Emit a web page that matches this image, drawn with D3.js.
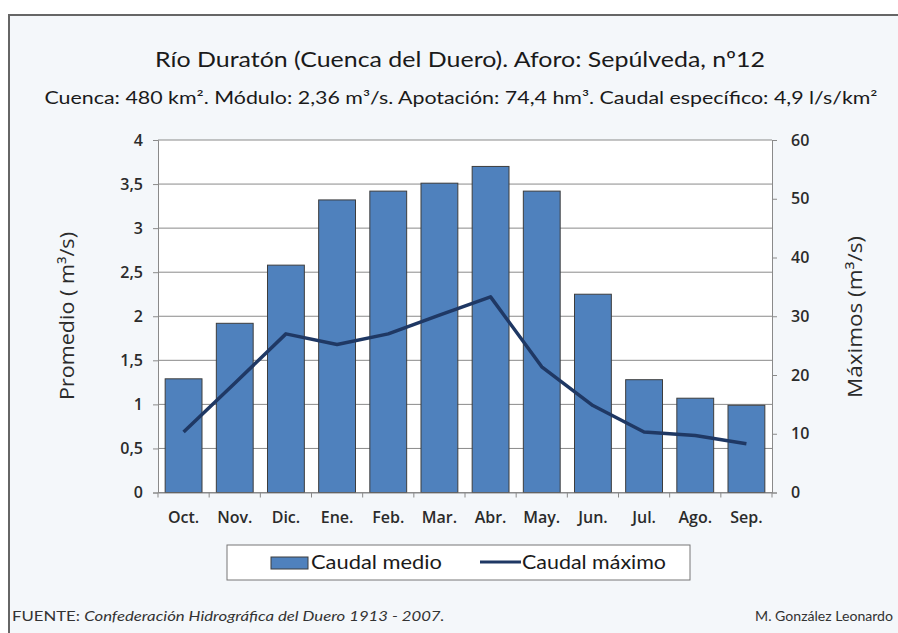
<!DOCTYPE html>
<html>
<head>
<meta charset="utf-8">
<script src="https://cdn.jsdelivr.net/npm/d3@7"></script>
<style>
  body { margin: 0; background: #ffffff; }
  text { font-family: "Open Sans", sans-serif; }
</style>
</head>
<body>
<div id="wrapper"></div>
<script>
// 1. Data
const months = ["Oct.", "Nov.", "Dic.", "Ene.", "Feb.", "Mar.", "Abr.", "May.", "Jun.", "Jul.", "Ago.", "Sep."]
const caudalMedio = [1.29, 1.92, 2.58, 3.32, 3.42, 3.51, 3.70, 3.42, 2.25, 1.28, 1.07, 0.99]
const caudalMaximo = [10.3, 18.6, 27.0, 25.2, 27.0, 30.2, 33.3, 21.4, 14.8, 10.3, 9.7, 8.3]
const leftTicks = [0, 0.5, 1, 1.5, 2, 2.5, 3, 3.5, 4]
const rightTicks = [0, 10, 20, 30, 40, 50, 60]

const titleText = "Río Duratón (Cuenca del Duero). Aforo: Sepúlveda, nº12"
const subtitleText = "Cuenca: 480 km². Módulo: 2,36 m³/s. Apotación: 74,4 hm³. Caudal específico: 4,9 l/s/km²"

// 2. Dimensions
const width = 898
const height = 633
const plot = { left: 158, right: 772, top: 140, bottom: 492.5 }

const svg = d3.select("#wrapper")
    .append("svg")
    .attr("width", width)
    .attr("height", height)

// outer frame
svg.append("rect")
    .attr("x", 9)
    .attr("y", 15)
    .attr("width", width + 10)
    .attr("height", height + 10)
    .attr("fill", "#f4f7fa")
    .attr("stroke", "#666")
    .attr("stroke-width", 2)

// plot background
svg.append("rect")
    .attr("x", plot.left)
    .attr("y", plot.top)
    .attr("width", plot.right - plot.left)
    .attr("height", plot.bottom - plot.top)
    .attr("fill", "#ffffff")

// 3. Scales
const xScale = d3.scaleBand()
    .domain(months)
    .range([plot.left, plot.right])
    .paddingInner(0.28)
    .paddingOuter(0.14)

const yLeft = d3.scaleLinear()
    .domain([0, 4])
    .range([plot.bottom, plot.top])

const yRight = d3.scaleLinear()
    .domain([0, 60])
    .range([plot.bottom, plot.top])

// gridlines
svg.append("g")
    .selectAll("line")
    .data(leftTicks)
    .join("line")
    .attr("x1", plot.left)
    .attr("x2", plot.right)
    .attr("y1", d => yLeft(d))
    .attr("y2", d => yLeft(d))
    .attr("stroke", "#8a8a8a")
    .attr("stroke-width", 1)

// bars
svg.append("g")
    .selectAll("rect")
    .data(caudalMedio)
    .join("rect")
    .attr("x", (d, i) => xScale(months[i]))
    .attr("y", d => yLeft(d))
    .attr("width", xScale.bandwidth())
    .attr("height", d => yLeft(0) - yLeft(d))
    .attr("fill", "#4f81bd")
    .attr("stroke", "#3d3d3d")
    .attr("stroke-width", 1)

// line
const lineGen = d3.line()
    .x((d, i) => xScale(months[i]) + xScale.bandwidth() / 2)
    .y(d => yRight(d))

svg.append("path")
    .datum(caudalMaximo)
    .attr("d", lineGen)
    .attr("fill", "none")
    .attr("stroke", "#1f3864")
    .attr("stroke-width", 3.5)
    .attr("stroke-linejoin", "round")

// 4. Axes
const fmt = d => String(d).replace(".", ",")

const leftAxis = svg.append("g")
    .attr("transform", `translate(${plot.left},0)`)
    .call(d3.axisLeft(yLeft).tickValues(leftTicks).tickFormat(fmt).tickSize(5).tickPadding(10))

const rightAxis = svg.append("g")
    .attr("transform", `translate(${plot.right},0)`)
    .call(d3.axisRight(yRight).tickValues(rightTicks).tickSize(5).tickPadding(14))

const bottomAxis = svg.append("g")
    .attr("transform", `translate(0,${plot.bottom})`)
    .call(d3.axisBottom(xScale).tickSize(0).tickPadding(19))

// category boundary ticks
bottomAxis.append("g")
    .selectAll("line")
    .data(d3.range(months.length + 1))
    .join("line")
    .attr("x1", i => plot.left + i * xScale.step())
    .attr("x2", i => plot.left + i * xScale.step())
    .attr("y1", 0)
    .attr("y2", 5)
    .attr("stroke", "#8a8a8a")

for (const ax of [leftAxis, rightAxis, bottomAxis]) {
    ax.select(".domain").attr("stroke", "#8a8a8a")
    ax.selectAll(".tick line").attr("stroke", "#8a8a8a")
    ax.selectAll("text")
        .attr("fill", "#2b2b2b")
        .style("font-size", "16px")
        .style("font-weight", 600)
}

// axis titles
svg.append("text")
    .attr("transform", "translate(74,316) rotate(-90)")
    .attr("text-anchor", "middle")
    .attr("textLength", 168)
    .attr("lengthAdjust", "spacingAndGlyphs")
    .style("font-size", "20px")
    .attr("fill", "#2b2b2b")
    .text("Promedio ( m³/s)")

svg.append("text")
    .attr("transform", "translate(862,317) rotate(-90)")
    .attr("text-anchor", "middle")
    .attr("textLength", 162)
    .attr("lengthAdjust", "spacingAndGlyphs")
    .style("font-size", "20px")
    .attr("fill", "#2b2b2b")
    .text("Máximos  (m³/s)")

// title
svg.append("text")
    .attr("x", 460)
    .attr("y", 67)
    .attr("text-anchor", "middle")
    .attr("textLength", 610)
    .attr("lengthAdjust", "spacingAndGlyphs")
    .style("font-family", "Lato, sans-serif")
    .style("font-size", "22px")
    .attr("fill", "#1a1a1a")
    .text(titleText)

svg.append("text")
    .attr("x", 461)
    .attr("y", 104)
    .attr("text-anchor", "middle")
    .attr("textLength", 833)
    .attr("lengthAdjust", "spacingAndGlyphs")
    .style("font-family", "Lato, sans-serif")
    .style("font-size", "17px")
    .attr("fill", "#1a1a1a")
    .text(subtitleText)

// legend
const legend = svg.append("g")

legend.append("rect")
    .attr("x", 227)
    .attr("y", 545)
    .attr("width", 463)
    .attr("height", 35)
    .attr("fill", "#ffffff")
    .attr("stroke", "#777")
    .attr("stroke-width", 1)

legend.append("rect")
    .attr("x", 271)
    .attr("y", 557)
    .attr("width", 37)
    .attr("height", 12)
    .attr("fill", "#4f81bd")
    .attr("stroke", "#3d3d3d")

legend.append("text")
    .attr("x", 311)
    .attr("y", 569)
    .attr("textLength", 131)
    .attr("lengthAdjust", "spacingAndGlyphs")
    .style("font-family", "Lato, sans-serif")
    .style("font-size", "19px")
    .attr("fill", "#1a1a1a")
    .text("Caudal medio")

legend.append("line")
    .attr("x1", 480)
    .attr("x2", 521)
    .attr("y1", 562)
    .attr("y2", 562)
    .attr("stroke", "#1f3864")
    .attr("stroke-width", 3)

legend.append("text")
    .attr("x", 522)
    .attr("y", 569)
    .attr("textLength", 144)
    .attr("lengthAdjust", "spacingAndGlyphs")
    .style("font-family", "Lato, sans-serif")
    .style("font-size", "19px")
    .attr("fill", "#1a1a1a")
    .text("Caudal máximo")

// footer: stretched horizontally to the reference width (about 433px)
const footerG = svg.append("g")
const footer = footerG.append("text")
    .attr("x", 0)
    .attr("y", 0)
    .style("font-family", "Lato, sans-serif")
    .style("font-size", "12.5px")
    .attr("fill", "#333")

footer.append("tspan").text("FUENTE: ")
footer.append("tspan")
    .style("font-style", "italic")
    .text("Confederación Hidrográfica del Duero 1913 - 2007.")

const footerW = footer.node().getComputedTextLength()
footerG.attr("transform", `translate(12,621) scale(${433 / footerW},1)`)

const authorG = svg.append("g")
const author = authorG.append("text")
    .attr("text-anchor", "end")
    .style("font-family", "Lato, sans-serif")
    .style("font-size", "12.5px")
    .attr("fill", "#333")
    .text("M. González Leonardo")

const authorW = author.node().getComputedTextLength()
authorG.attr("transform", `translate(893,621) scale(${138 / authorW},1)`)
</script>
</body>
</html>
